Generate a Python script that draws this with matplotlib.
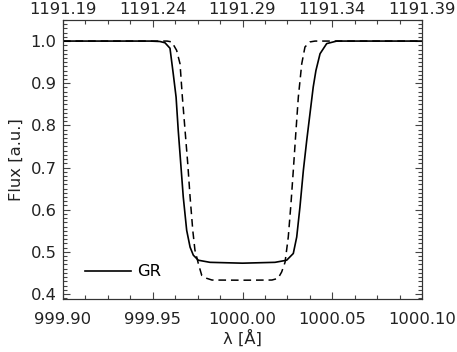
import matplotlib
matplotlib.use("Agg")
import matplotlib.pyplot as plt
from matplotlib.ticker import MultipleLocator, FixedLocator, FixedFormatter

plt.rcParams['font.family'] = ['DejaVu Sans']

# Solid curve (GR)
gr_wave = [999.900, 999.9485, 999.9540, 999.9568, 999.9596, 999.9614, 999.9630,
           999.9642, 999.9656, 999.9670, 999.9689, 999.9708, 999.9726, 999.9754,
           999.9819, 1000.000, 1000.0181, 1000.0246, 1000.0283, 1000.0302, 1000.0320,
           1000.0339, 1000.0358, 1000.0376, 1000.0394, 1000.0409, 1000.0432,
           1000.0469, 1000.0525, 1000.100]
gr_flux = [1.000, 1.000, 0.999, 0.996, 0.983, 0.923, 0.867,
           0.788, 0.709, 0.630, 0.551, 0.511, 0.492, 0.480,
           0.475, 0.473, 0.475, 0.480, 0.496, 0.535, 0.606,
           0.693, 0.765, 0.828, 0.891, 0.930, 0.970,
           0.994, 1.000, 1.000]

# Dashed curve
ref_wave = [999.900, 999.9580, 999.9606, 999.9633, 999.9652, 999.9665, 999.9680,
            999.9695, 999.9708, 999.9723, 999.9735, 999.9754, 999.9773, 999.9801,
            999.9830, 1000.000, 1000.0164, 1000.0198, 1000.0218, 1000.0237, 1000.0255,
            1000.0270, 1000.0283, 1000.0298, 1000.0311, 1000.0330, 1000.0348,
            1000.0376, 1000.0404, 1000.100]
ref_flux = [1.000, 1.000, 0.998, 0.978, 0.946, 0.867, 0.788,
            0.709, 0.630, 0.551, 0.504, 0.472, 0.444, 0.437,
            0.433, 0.4326, 0.433, 0.437, 0.452, 0.475, 0.535,
            0.614, 0.693, 0.788, 0.867, 0.946, 0.986,
            0.998, 1.000, 1.000]

bottom_ticks = [999.90, 999.95, 1000.00, 1000.05, 1000.10]
bottom_labels = ["999.90", "999.95", "1000.00", "1000.05", "1000.10"]
top_labels = ["1191.19", "1191.24", "1191.29", "1191.34", "1191.39"]
y_ticks = [0.4, 0.5, 0.6, 0.7, 0.8, 0.9, 1.0]

fs = 11.8
fig = plt.figure(figsize=(4.57, 3.52), dpi=100)
ax = fig.add_axes([63/457, 1-299/352, (422-63)/457, (299-20)/352])

ax.plot(gr_wave, gr_flux, color='black', lw=1.2, label='GR')
ax.plot(ref_wave, ref_flux, color='black', lw=1.1, dashes=(5, 3.2))

ax.set_xlim(999.90, 1000.10)
ax.set_ylim(0.388, 1.05)

ax.xaxis.set_major_locator(FixedLocator(bottom_ticks))
ax.xaxis.set_major_formatter(FixedFormatter(bottom_labels))
ax.xaxis.set_minor_locator(MultipleLocator(0.0125))
ax.yaxis.set_major_locator(FixedLocator(y_ticks))
ax.yaxis.set_major_formatter(FixedFormatter([f"{v:.1f}" for v in y_ticks]))
ax.yaxis.set_minor_locator(MultipleLocator(0.01))

ax.tick_params(which='both', direction='in', top=False, right=True, width=0.8, color='#444444')
ax.tick_params(which='major', length=5)
ax.tick_params(which='minor', length=2.8)
ax.tick_params(axis='x', which='major', labelsize=fs, pad=9, labelcolor='#222222')
ax.tick_params(axis='y', which='major', labelsize=fs, pad=4.5, labelcolor='#222222')

top = ax.twiny()
top.set_xlim(ax.get_xlim())
top.xaxis.set_major_locator(FixedLocator(bottom_ticks))
top.xaxis.set_major_formatter(FixedFormatter(top_labels))
top.xaxis.set_minor_locator(MultipleLocator(0.0125))
top.tick_params(which='both', direction='in', width=0.8, color='#444444')
top.tick_params(which='major', length=5, labelsize=fs, pad=2.0, labelcolor='#222222')
top.tick_params(which='minor', length=2.8)

for a in (ax, top):
    for s in a.spines.values():
        s.set_linewidth(0.8)
        s.set_color('#333333')

ax.set_xlabel("λ [Å]", fontsize=fs, labelpad=2, color='#222222')
ax.set_ylabel("Flux [a.u.]", fontsize=fs, labelpad=5, color='#222222')

ax.legend(loc='center left', bbox_to_anchor=((85-63)/359, (299-272)/279),
          frameon=False, fontsize=fs, handlelength=2.8, handletextpad=0.35,
          borderpad=0, borderaxespad=0)

fig.savefig("out.png", dpi=100)
